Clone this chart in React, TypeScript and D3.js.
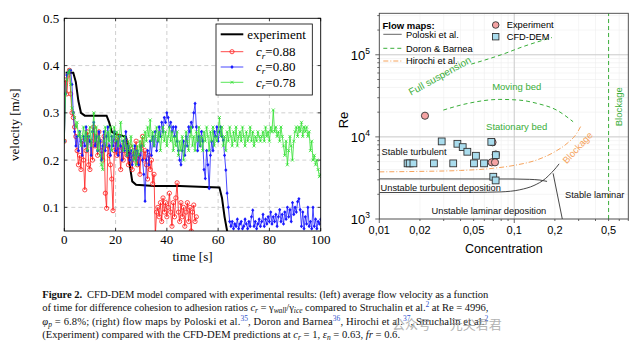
import React from "react";
import * as d3 from "d3";

// ---------- LEFT PANEL DATA ----------
const leftXTicks = [0, 20, 40, 60, 80, 100];
const leftYTicks = [0.1, 0.2, 0.3, 0.4, 0.5];
const sampleStep = 0.5; // seconds between samples

const expTime = [0.5, 3.5, 4.5, 5.5, 6.5, 8, 16.5, 17.5, 18.5, 20, 24, 25, 25.5, 26.5, 28, 35, 45, 55, 60.5, 61.5, 62.5, 63.5, 66];
const expVel = [0.385, 0.385, 0.365, 0.325, 0.3, 0.294, 0.294, 0.28, 0.26, 0.255, 0.25, 0.23, 0.19, 0.155, 0.148, 0.145, 0.145, 0.143, 0.142, 0.12, 0.08, 0.05, 0.03];

const red088 = [
  0.24, 0.37, 0.34, 0.38, 0.39, 0.34, 0.3, 0.29, 0.27, 0.25, 0.22, 0.19, 0.21, 0.18, 0.24, 0.2, 0.137, 0.22, 0.26, 0.19,
  0.18, 0.24, 0.2, 0.27, 0.23, 0.25, 0.21, 0.26, 0.24, 0.22, 0.2, 0.25, 0.13, 0.098, 0.23, 0.21, 0.19, 0.16, 0.093, 0.22,
  0.24, 0.21, 0.25, 0.22, 0.18, 0.23, 0.2, 0.22, 0.24, 0.21, 0.19, 0.23, 0.21, 0.18, 0.22, 0.2, 0.24, 0.19, 0.21, 0.17,
  0.23, 0.25, 0.2, 0.22, 0.19, 0.16, 0.21, 0.18, 0.2, 0.15, 0.17, 0.04, 0.09, 0.1, 0.08, 0.11, 0.07, 0.12, 0.09, 0.11,
  0.08, 0.1, 0.13, 0.09, 0.06, 0.11, 0.08, 0.12, 0.152, 0.09, 0.07, 0.11, 0.08, 0.1, 0.06, 0.09, 0.11, 0.07, 0.1, 0.05,
  0.09, 0.105, 0.07, 0.08,
];

const blue080 = [
  0.24, 0.34, 0.38, 0.385, 0.39, 0.39, 0.36, 0.3, 0.26, 0.23, 0.25, 0.22, 0.26, 0.24, 0.21, 0.25, 0.23, 0.27, 0.22, 0.25,
  0.24, 0.21, 0.26, 0.28, 0.23, 0.25, 0.22, 0.26, 0.24, 0.2, 0.23, 0.26, 0.22, 0.25, 0.27, 0.23, 0.21, 0.25, 0.23, 0.26,
  0.22, 0.24, 0.21, 0.25, 0.23, 0.2, 0.24, 0.22, 0.26, 0.21, 0.23, 0.2, 0.22, 0.19, 0.21, 0.23, 0.2, 0.22, 0.19, 0.21,
  0.23, 0.2, 0.17, 0.113, 0.2, 0.22, 0.19, 0.24, 0.21, 0.25, 0.23, 0.26, 0.22, 0.24, 0.27, 0.25, 0.28, 0.26, 0.29, 0.28,
  0.3, 0.29, 0.27, 0.28, 0.26, 0.27, 0.25, 0.27, 0.24, 0.22, 0.2, 0.19, 0.22, 0.24, 0.21, 0.25, 0.23, 0.27, 0.26, 0.28,
  0.27, 0.3, 0.32, 0.27, 0.22, 0.25, 0.23, 0.26, 0.24, 0.18, 0.161, 0.22, 0.19, 0.14, 0.21, 0.24, 0.22, 0.26, 0.25, 0.27,
  0.24, 0.26, 0.27, 0.25, 0.242, 0.21, 0.179, 0.13, 0.1, 0.07, 0.06, 0.07, 0.055, 0.065, 0.06, 0.075, 0.055, 0.065, 0.07, 0.055,
  0.06, 0.075, 0.065, 0.055, 0.07, 0.06, 0.08, 0.094, 0.06, 0.07, 0.055, 0.065, 0.075, 0.06, 0.07, 0.085, 0.06, 0.075, 0.065, 0.08,
  0.07, 0.09, 0.065, 0.08, 0.07, 0.085, 0.06, 0.08, 0.095, 0.07, 0.085, 0.065, 0.09, 0.075, 0.1, 0.08, 0.095, 0.07, 0.11, 0.085,
  0.1, 0.09, 0.112, 0.118, 0.095, 0.06, 0.09, 0.055, 0.08, 0.065, 0.1, 0.06, 0.07, 0.055, 0.1, 0.06, 0.075, 0.055, 0.07, 0.065,
  0.075,
];

const green078 = [
  0.24, 0.34, 0.37, 0.385, 0.39, 0.36, 0.31, 0.3, 0.29, 0.27, 0.28, 0.25, 0.26, 0.23, 0.25, 0.27, 0.24, 0.26, 0.22, 0.25,
  0.27, 0.23, 0.26, 0.3, 0.24, 0.27, 0.22, 0.25, 0.21, 0.19, 0.18, 0.24, 0.27, 0.23, 0.26, 0.24, 0.27, 0.22, 0.25, 0.27,
  0.24, 0.26, 0.23, 0.25, 0.28, 0.24, 0.22, 0.25, 0.23, 0.21, 0.24, 0.22, 0.25, 0.23, 0.2, 0.22, 0.19, 0.23, 0.21, 0.24,
  0.22, 0.25, 0.23, 0.26, 0.24, 0.27, 0.25, 0.285, 0.24, 0.26, 0.23, 0.25, 0.27, 0.24, 0.26, 0.22, 0.25, 0.27, 0.24, 0.26,
  0.23, 0.25, 0.27, 0.24, 0.26, 0.22, 0.25, 0.23, 0.26, 0.21, 0.24, 0.22, 0.25, 0.2, 0.23, 0.26, 0.24, 0.22, 0.25, 0.27,
  0.23, 0.25, 0.22, 0.26, 0.24, 0.27, 0.23, 0.25, 0.22, 0.26, 0.24, 0.27, 0.25, 0.22, 0.26, 0.24, 0.27, 0.23, 0.25, 0.24,
  0.26, 0.29, 0.25, 0.27, 0.23, 0.25, 0.22, 0.26, 0.24, 0.27, 0.25, 0.23, 0.26, 0.24, 0.27, 0.23, 0.25, 0.26, 0.24, 0.27,
  0.25, 0.23, 0.26, 0.24, 0.25, 0.27, 0.24, 0.26, 0.23, 0.25, 0.24, 0.26, 0.25, 0.24, 0.25, 0.26, 0.24, 0.27, 0.25, 0.26,
  0.24, 0.27, 0.26, 0.306, 0.26, 0.27, 0.25, 0.26, 0.24, 0.27, 0.25, 0.23, 0.21, 0.24, 0.19, 0.22, 0.25, 0.23, 0.2, 0.24,
  0.26, 0.27, 0.25, 0.27, 0.26, 0.28, 0.25, 0.27, 0.26, 0.27, 0.25, 0.26, 0.22, 0.24, 0.2, 0.21, 0.19, 0.2, 0.18, 0.165,
  0.17,
];

// ---------- RIGHT PANEL DATA ----------
const rightXTicks = [0.01, 0.02, 0.05, 0.1, 0.2, 0.5];
const rightXTickLabels = ["0,01", "0,02", "0,05", "0,1", "0,2", "0,5"];
const rightYTicks = [1e3, 1e4, 1e5];
const rightYExp = ["3", "4", "5"];

const poloskiUpper: [number, number][] = [[0.01, 3080], [0.1, 3070], [0.13, 3040], [0.155, 2980], [0.175, 2870]];
const poloskiLower: [number, number][] = [[0.01, 2100], [0.05, 2110], [0.08, 2140], [0.11, 2270], [0.14, 2560], [0.17, 3100], [0.19, 3700], [0.205, 4250], [0.215, 4700]];
const poloskiVertical: [number, number][] = [[0.194, 3600], [0.227, 1000]];
const doronUpper: [number, number][] = [[0.048, 77000], [0.08, 100000], [0.12, 128000], [0.19, 162000]];
const doronMiddle: [number, number][] = [[0.0298, 21200], [0.045, 25500], [0.0783, 28600], [0.11, 28000], [0.147, 25600], [0.206, 21200], [0.273, 15300]];
const doronBlockageX = 0.5;
const hirochi: [number, number][] = [[0.01, 3750], [0.02, 3800], [0.04, 3900], [0.07, 4150], [0.1, 4500], [0.15, 5300], [0.2, 6600], [0.25, 8500], [0.29, 11000], [0.315, 14000]];

const experimentX = [0.0218, 0.069, 0.068, 0.072, 0.073];
const experimentRe = [18100, 8600, 4900, 4900, 6100];
const cfdX = [0.0162, 0.0168, 0.0179, 0.0254, 0.029, 0.0353, 0.0379, 0.0415, 0.0449, 0.0503, 0.052, 0.0597, 0.0676, 0.0699, 0.0728, 0.073];
const cfdRe = [4760, 4760, 4760, 4760, 8810, 4760, 8240, 7510, 6590, 4760, 5890, 4760, 8700, 3270, 2950, 6000];

const serif = "'Liberation Serif', 'Times New Roman', serif";
const sans = "'Liberation Sans', Arial, sans-serif";

function LeftPanel() {
  const x = d3.scaleLinear().domain([0, 100]).range([64.3, 320.7]);
  const y = d3.scaleLinear().domain([0.05, 0.5]).range([231, 18.3]);
  const [x0, x1] = x.range();
  const [y0, y1] = y.range();
  const line = d3.line<[number, number]>().x((d) => x(d[0])).y((d) => y(d[1]));
  const toPts = (vals: number[]) => vals.map((v, i) => [i * sampleStep, v] as [number, number]);
  const expPts = expTime.map((t, i) => [t, expVel[i]] as [number, number]);
  const redPts = toPts(red088);
  const bluePts = toPts(blue080);
  const greenPts = toPts(green078);
  const RED = "#ff1a1a", BLUE = "#1a1aff", GREEN = "#2fe02f";

  const circle = (cx: number, cy: number, k: string) => (
    <circle key={k} cx={cx} cy={cy} r={2.1} fill="none" stroke={RED} strokeWidth={0.8} />
  );
  const diamond = (cx: number, cy: number, k: string) => (
    <path key={k} d={`M${cx},${cy - 1.9}L${cx + 1.6},${cy}L${cx},${cy + 1.9}L${cx - 1.6},${cy}Z`} fill={BLUE} />
  );
  const cross = (cx: number, cy: number, k: string) => (
    <path key={k} d={`M${cx - 1.5},${cy - 1.5}L${cx + 1.5},${cy + 1.5}M${cx - 1.5},${cy + 1.5}L${cx + 1.5},${cy - 1.5}`} stroke={GREEN} strokeWidth={0.8} />
  );

  const legendRows = [
    { label: "0.88", color: RED, marker: circle },
    { label: "0.80", color: BLUE, marker: diamond },
    { label: "0.78", color: GREEN, marker: cross },
  ];

  return (
    <g>
      <defs>
        <clipPath id="clipL">
          <rect x={x0} y={y1} width={x1 - x0} height={y0 - y1} />
        </clipPath>
      </defs>
      {/* grid */}
      {leftXTicks.filter((t) => t > 0 && t < 100).map((t) => (
        <line key={"gx" + t} x1={x(t)} x2={x(t)} y1={y0} y2={y1} stroke="#c4c4c4" strokeWidth={0.8} strokeDasharray="4 3" />
      ))}
      {leftYTicks.filter((t) => t < 0.5).map((t) => (
        <line key={"gy" + t} x1={x0} x2={x1} y1={y(t)} y2={y(t)} stroke="#c4c4c4" strokeWidth={0.8} strokeDasharray="4 3" />
      ))}
      <g clipPath="url(#clipL)">
        <path d={line(expPts) || ""} fill="none" stroke="#000" strokeWidth={2} />
        <path d={line(redPts) || ""} fill="none" stroke={RED} strokeWidth={0.8} />
        {redPts.map((p, i) => circle(x(p[0]), y(p[1]), "r" + i))}
        <path d={line(bluePts) || ""} fill="none" stroke={BLUE} strokeWidth={0.8} />
        {bluePts.map((p, i) => diamond(x(p[0]), y(p[1]), "b" + i))}
        <path d={line(greenPts) || ""} fill="none" stroke={GREEN} strokeWidth={0.8} />
        {greenPts.map((p, i) => cross(x(p[0]), y(p[1]), "g" + i))}
      </g>
      {/* frame */}
      <rect x={x0} y={y1} width={x1 - x0} height={y0 - y1} fill="none" stroke="#000" strokeWidth={0.9} />
      {leftXTicks.map((t) => (
        <g key={"tx" + t}>
          <line x1={x(t)} x2={x(t)} y1={y0} y2={y0 - 3} stroke="#000" strokeWidth={0.7} />
          <line x1={x(t)} x2={x(t)} y1={y1} y2={y1 + 3} stroke="#000" strokeWidth={0.7} />
          <text x={x(t)} y={y0 + 13} textAnchor="middle" fontFamily={serif} fontSize={13}>{t}</text>
        </g>
      ))}
      {leftYTicks.map((t) => (
        <g key={"ty" + t}>
          <line x1={x0} x2={x0 + 3} y1={y(t)} y2={y(t)} stroke="#000" strokeWidth={0.7} />
          <line x1={x1} x2={x1 - 3} y1={y(t)} y2={y(t)} stroke="#000" strokeWidth={0.7} />
          <text x={x0 - 5} y={y(t) + 4.5} textAnchor="end" fontFamily={serif} fontSize={13}>{t.toFixed(1)}</text>
        </g>
      ))}
      <text x={(x0 + x1) / 2} y={261} textAnchor="middle" fontFamily={serif} fontSize={13}>time [s]</text>
      <text transform={`translate(19,${(y0 + y1) / 2}) rotate(-90)`} textAnchor="middle" fontFamily={serif} fontSize={13}>velocity [m/s]</text>
      {/* legend */}
      <rect x={216} y={24} width={96.3} height={71} fill="#fff" stroke="#000" strokeWidth={0.8} />
      <line x1={220.7} x2={243.3} y1={34.3} y2={34.3} stroke="#000" strokeWidth={2} />
      <text x={247.3} y={38.5} fontFamily={serif} fontSize={13}>experiment</text>
      {legendRows.map((r, i) => {
        const ly = 51.7 + i * 15.3;
        return (
          <g key={"lg" + i}>
            <line x1={220.7} x2={243.3} y1={ly} y2={ly} stroke={r.color} strokeWidth={0.8} />
            {r.marker(232, ly, "lm" + i)}
            <text x={256} y={ly + 4.3} fontFamily={serif} fontSize={13}>
              <tspan fontStyle="italic">c</tspan>
              <tspan fontStyle="italic" fontSize={9} dy={2.5}>r</tspan>
              <tspan dy={-2.5}>={r.label}</tspan>
            </text>
          </g>
        );
      })}
    </g>
  );
}

function RightPanel() {
  const x = d3.scaleLog().domain([0.01, 0.7]).range([379.3, 628.3]);
  const y = d3.scaleLog().domain([1000, 3.2e5]).range([219, 13.3]);
  const [x0, x1] = x.range();
  const [y0, y1] = y.range();
  const curve = d3.line<[number, number]>().x((d) => x(d[0])).y((d) => y(d[1])).curve(d3.curveMonotoneX);
  const straight = d3.line<[number, number]>().x((d) => x(d[0])).y((d) => y(d[1]));
  const GREEN = "#3aae3a", ORANGE = "#f5a35c", GRID = "#c8c8c8";

  const minorX: number[] = [];
  [0.01, 0.1].forEach((dec) => { for (let k = 1; k <= 9; k++) { const v = dec * k; if (v <= 0.7 + 1e-9) minorX.push(v); } });
  const minorY: number[] = [];
  [1e3, 1e4, 1e5].forEach((dec) => { for (let k = 1; k <= 9; k++) { const v = dec * k; if (v <= 3.2e5) minorY.push(v); } });

  return (
    <g fontFamily={sans}>
      <defs>
        <clipPath id="clipR">
          <rect x={x0} y={y1} width={x1 - x0} height={y0 - y1} />
        </clipPath>
      </defs>
      {/* faint minor grid */}
      {minorX.map((v, i) => (
        <line key={"mgx" + i} x1={x(v)} x2={x(v)} y1={y0} y2={y1} stroke="#eeeeee" strokeWidth={0.6} />
      ))}
      {minorY.map((v, i) => (
        <line key={"mgy" + i} x1={x0} x2={x1} y1={y(v)} y2={y(v)} stroke="#eeeeee" strokeWidth={0.6} />
      ))}
      {/* major grid */}
      <line x1={x(0.1)} x2={x(0.1)} y1={y0} y2={y1} stroke={GRID} strokeWidth={0.9} />
      {[1e4, 1e5].map((v) => (
        <line key={"gy" + v} x1={x0} x2={x1} y1={y(v)} y2={y(v)} stroke={GRID} strokeWidth={0.9} />
      ))}
      <g clipPath="url(#clipR)">
        {/* Poloski */}
        <path d={curve(poloskiUpper) || ""} fill="none" stroke="#333" strokeWidth={0.9} />
        <path d={curve(poloskiLower) || ""} fill="none" stroke="#333" strokeWidth={0.9} />
        <path d={straight(poloskiVertical) || ""} fill="none" stroke="#333" strokeWidth={0.9} />
        {/* Doron & Barnea */}
        <path d={curve(doronUpper) || ""} fill="none" stroke={GREEN} strokeWidth={1} strokeDasharray="4 3" />
        <path d={curve(doronMiddle) || ""} fill="none" stroke={GREEN} strokeWidth={1} strokeDasharray="4 3" />
        <line x1={x(doronBlockageX)} x2={x(doronBlockageX)} y1={y0} y2={y1} stroke={GREEN} strokeWidth={1} strokeDasharray="4 3" />
        {/* Hirochi */}
        <path d={curve(hirochi) || ""} fill="none" stroke={ORANGE} strokeWidth={1} strokeDasharray="5 2 1 2" />
        {/* markers */}
        {experimentX.map((v, i) => (
          <circle key={"ex" + i} cx={x(v)} cy={y(experimentRe[i])} r={3.6} fill="#f4a3a3" stroke="#333" strokeWidth={0.9} />
        ))}
        {cfdX.map((v, i) => (
          <rect key={"cf" + i} x={x(v) - 3.4} y={y(cfdRe[i]) - 3.4} width={6.8} height={6.8} fill="#a9dced" stroke="#333" strokeWidth={0.9} />
        ))}
      </g>
      {/* region labels */}
      <text transform="translate(441.5,79) rotate(-29)" textAnchor="middle" fontSize={10} fill={GREEN}>Full suspension</text>
      <text x={516.7} y={89.5} textAnchor="middle" fontSize={9.5} fill={GREEN}>Moving bed</text>
      <text x={516.7} y={130} textAnchor="middle" fontSize={9.5} fill={GREEN}>Stationary bed</text>
      <text transform="translate(622,106.7) rotate(-90)" textAnchor="middle" fontSize={9.5} fill={GREEN}>Blockage</text>
      <text transform="translate(580,150) rotate(-47)" textAnchor="middle" fontSize={9.5} fill={ORANGE}>Blockage</text>
      <text x={381.5} y={155} fontSize={9.3} fill="#111">Stable turbulent</text>
      <text x={380.5} y={190.5} fontSize={9.3} fill="#111">Unstable turbulent deposition</text>
      <text x={565} y={197.5} fontSize={9.3} fill="#111">Stable laminar</text>
      <text x={431.5} y={214} fontSize={9.3} fill="#111">Unstable laminar deposition</text>
      {/* legend */}
      <text x={382.5} y={28.5} fontSize={9.5} fontWeight="bold">Flow maps:</text>
      <line x1={383.3} x2={401.7} y1={34.3} y2={34.3} stroke="#555" strokeWidth={0.9} />
      <text x={406} y={37.6} fontSize={9.3}>Poloski et al.</text>
      <line x1={383.3} x2={401.7} y1={48.3} y2={48.3} stroke={GREEN} strokeWidth={1} strokeDasharray="4 3" />
      <text x={406} y={51.6} fontSize={9.3}>Doron &amp; Barnea</text>
      <line x1={383.3} x2={401.7} y1={61} y2={61} stroke={ORANGE} strokeWidth={1} strokeDasharray="5 2 1 2" />
      <text x={406} y={64.3} fontSize={9.3}>Hirochi et al.</text>
      <circle cx={495.7} cy={25} r={3.3} fill="#f4a3a3" stroke="#333" strokeWidth={0.9} />
      <text x={506.7} y={28.3} fontSize={9.3}>Experiment</text>
      <rect x={492.5} y={33.5} width={6.4} height={6.4} fill="#a9dced" stroke="#333" strokeWidth={0.9} />
      <text x={506.7} y={40} fontSize={9.3}>CFD-DEM</text>
      {/* frame */}
      <rect x={x0} y={y1} width={x1 - x0} height={y0 - y1} fill="none" stroke="#444" strokeWidth={0.9} />
      {/* ticks */}
      {minorX.map((v, i) => (
        <line key={"tx" + i} x1={x(v)} x2={x(v)} y1={y0} y2={y0 + (Math.abs(Math.log10(v) - Math.round(Math.log10(v))) < 1e-6 ? 4 : 2)} stroke="#444" strokeWidth={0.8} />
      ))}
      {minorY.map((v, i) => (
        <line key={"ty" + i} x1={x0} x2={x0 - (Math.abs(Math.log10(v) - Math.round(Math.log10(v))) < 1e-6 ? 4 : 2)} y1={y(v)} y2={y(v)} stroke="#444" strokeWidth={0.8} />
      ))}
      {rightXTicks.map((v, i) => (
        <text key={"xl" + i} x={x(v)} y={234} textAnchor="middle" fontSize={11}>{rightXTickLabels[i]}</text>
      ))}
      {rightYTicks.map((v, i) => (
        <text key={"yl" + i} x={370} y={y(v) + 5} textAnchor="end" fontSize={13}>
          10
          <tspan dy={-6} fontSize={8.5}>{rightYExp[i]}</tspan>
        </text>
      ))}
      <text x={(x0 + x1) / 2} y={252.5} textAnchor="middle" fontSize={12.5}>Concentration</text>
      <text transform="translate(347.5,120) rotate(-90)" textAnchor="middle" fontSize={13}>Re</text>
    </g>
  );
}

function Caption() {
  const fs = 10.6;
  const sub = 7.5;
  const REF = "#3355cc";
  const W = 446;
  return (
    <g fontFamily={serif} fontSize={fs} fill="#111">
      <text x={42.3} y={297.5} textLength={W} lengthAdjust="spacing">
        <tspan fontWeight="bold">Figure 2.</tspan>
        <tspan>{"\u00a0\u00a0CFD-DEM model compared with experimental results: (left) average flow velocity as a function"}</tspan>
      </text>
      <text x={42.3} y={311} textLength={W} lengthAdjust="spacing">
        <tspan>of time for difference cohesion to adhesion ratios </tspan>
        <tspan fontStyle="italic">c</tspan>
        <tspan fontStyle="italic" fontSize={sub} dy={2}>r</tspan>
        <tspan dy={-2}> = γ</tspan>
        <tspan fontStyle="italic" fontSize={sub} dy={2}>wall</tspan>
        <tspan dy={-2}>/γ</tspan>
        <tspan fontStyle="italic" fontSize={sub} dy={2}>ice</tspan>
        <tspan dy={-2}> compared to Struchalin et al.</tspan>
        <tspan fontSize={sub} dy={-4} fill={REF}>2</tspan>
        <tspan dy={4}> at Re = 4996,</tspan>
      </text>
      <text x={42.3} y={324.5} textLength={W} lengthAdjust="spacing">
        <tspan fontStyle="italic">φ</tspan>
        <tspan fontStyle="italic" fontSize={sub} dy={2}>p</tspan>
        <tspan dy={-2}> = 6.8%; (right) flow maps by Poloski et al.</tspan>
        <tspan fontSize={sub} dy={-4} fill={REF}>35</tspan>
        <tspan dy={4}>, Doron and Barnea</tspan>
        <tspan fontSize={sub} dy={-4} fill={REF}>36</tspan>
        <tspan dy={4}>, Hirochi et al.</tspan>
        <tspan fontSize={sub} dy={-4} fill={REF}>37</tspan>
        <tspan dy={4}>, Struchalin et al.</tspan>
        <tspan fontSize={sub} dy={-4} fill={REF}>2</tspan>
      </text>
      <text x={42.3} y={338}>
        <tspan>(Experiment) compared with the CFD-DEM predictions at </tspan>
        <tspan fontStyle="italic">c</tspan>
        <tspan fontStyle="italic" fontSize={sub} dy={2}>r</tspan>
        <tspan dy={-2}> = 1, </tspan>
        <tspan fontStyle="italic">ε</tspan>
        <tspan fontStyle="italic" fontSize={sub} dy={2}>n</tspan>
        <tspan dy={-2}> = 0.63, </tspan>
        <tspan fontStyle="italic">fr</tspan>
        <tspan> = 0.6.</tspan>
      </text>
      <text x={392} y={329} fontFamily="'Noto Sans CJK SC', sans-serif" fontSize={13} fill="#9a9a9a" opacity={0.75}>
        公众号 · 元尖君君
      </text>
    </g>
  );
}

export default function App() {
  return (
    <svg width={644} height={351} viewBox="0 0 644 351" style={{ display: "block", position: "absolute", left: 0, top: 0, background: "#fff" }}>
      <rect width={644} height={351} fill="#fff" />
      <LeftPanel />
      <RightPanel />
      <Caption />
    </svg>
  );
}
